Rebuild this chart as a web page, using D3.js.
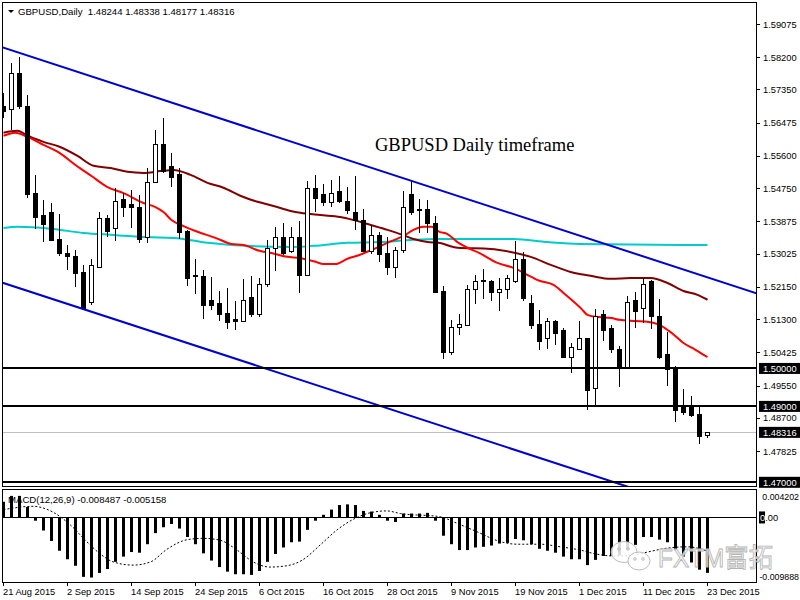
<!DOCTYPE html>
<html>
<head>
<meta charset="utf-8">
<script src="https://cdnjs.cloudflare.com/ajax/libs/d3/7.8.5/d3.min.js"></script>
<style>
body { margin: 0; background: #fff; }
svg { display: block; }
</style>
</head>
<body>
<div class="grafico"></div>
<script>
// GBPUSD diario, 21 Aug - 23 Dec 2015 (una vela por dia habil)
var openP = [1.5689,1.5681,1.5778,1.5689,1.5460,1.5404,1.5412,1.5341,1.5302,1.5296,
  1.5254,1.5175,1.5267,1.5394,1.5370,1.5446,1.5431,1.5425,1.5344,1.5491,
  1.5591,1.5531,1.5510,1.5362,1.5244,1.5241,1.5178,1.5172,1.5146,1.5128,
  1.5125,1.5188,1.5143,1.5222,1.5315,1.5344,1.5309,1.5344,1.5244,1.5475,
  1.5457,1.5438,1.5465,1.5441,1.5412,1.5391,1.5307,1.5349,1.5302,1.5267,
  1.5312,1.5457,1.5415,1.5420,1.5383,1.5204,1.5043,1.5109,1.5114,1.5209,
  1.5228,1.5230,1.5199,1.5207,1.5230,1.5288,1.5172,1.5117,1.5078,1.5125,
  1.5099,1.5030,1.5051,1.5078,1.4946,1.5141,1.5104,1.5051,1.5001,1.5178,
  1.5159,1.5228,1.5138,1.5036,1.4998,1.4898,1.4898,1.4878,1.48244];
var highP = [1.5726,1.5805,1.5821,1.5720,1.5510,1.5444,1.5436,1.5407,1.5325,1.5312,
  1.5273,1.5288,1.5412,1.5404,1.5475,1.5462,1.5470,1.5457,1.5528,1.5628,
  1.5660,1.5568,1.5528,1.5365,1.5288,1.5259,1.5241,1.5204,1.5212,1.5178,
  1.5236,1.5244,1.5238,1.5338,1.5373,1.5383,1.5373,1.5389,1.5494,1.5510,
  1.5486,1.5496,1.5507,1.5478,1.5507,1.5420,1.5378,1.5359,1.5346,1.5320,
  1.5468,1.5494,1.5446,1.5444,1.5402,1.5217,1.5128,1.5143,1.5220,1.5246,
  1.5262,1.5233,1.5238,1.5246,1.5336,1.5307,1.5194,1.5154,1.5133,1.5128,
  1.5107,1.5067,1.5125,1.5080,1.5157,1.5154,1.5114,1.5059,1.5191,1.5201,
  1.5238,1.5233,1.5183,1.5096,1.5006,1.4946,1.4928,1.4901,1.48338];
var lowP = [1.5660,1.5628,1.5684,1.5449,1.5367,1.5333,1.5336,1.5296,1.5259,1.5215,
  1.5157,1.5167,1.5266,1.5346,1.5336,1.5399,1.5370,1.5331,1.5331,1.5489,
  1.5515,1.5478,1.5341,1.5217,1.5196,1.5130,1.5154,1.5125,1.5104,1.5101,
  1.5122,1.5135,1.5135,1.5215,1.5257,1.5299,1.5304,1.5199,1.5243,1.5412,
  1.5428,1.5425,1.5436,1.5407,1.5365,1.5306,1.5302,1.5280,1.5246,1.5238,
  1.5304,1.5404,1.5357,1.5357,1.5200,1.5025,1.5036,1.5088,1.5112,1.5170,
  1.5183,1.5178,1.5151,1.5183,1.5225,1.5178,1.5104,1.5049,1.5051,1.5062,
  1.5027,1.4988,1.5049,1.4891,1.4898,1.5072,1.5041,1.4951,1.4999,1.5107,
  1.5120,1.5104,1.5025,1.4954,1.4859,1.4878,1.4872,1.4801,1.48177];
var closeP = [1.5676,1.5778,1.5689,1.5457,1.5399,1.5378,1.5338,1.5302,1.5294,1.5251,
  1.5159,1.5270,1.5394,1.5362,1.5441,1.5423,1.5423,1.5341,1.5489,1.5591,
  1.5518,1.5504,1.5359,1.5238,1.5241,1.5167,1.5167,1.5143,1.5122,1.5125,
  1.5180,1.5141,1.5222,1.5317,1.5344,1.5304,1.5344,1.5244,1.5475,1.5449,
  1.5436,1.5462,1.5441,1.5415,1.5389,1.5307,1.5349,1.5299,1.5267,1.5312,
  1.5425,1.5412,1.5420,1.5383,1.5201,1.5041,1.5109,1.5117,1.5209,1.5228,
  1.5233,1.5199,1.5209,1.5236,1.5288,1.5183,1.5112,1.5072,1.5125,1.5093,
  1.5028,1.5054,1.5078,1.4941,1.5136,1.5101,1.5049,1.5001,1.5175,1.5151,
  1.5222,1.5136,1.5028,1.4996,1.4888,1.4885,1.4875,1.4820,1.48316];

// medias moviles: [vela, precio]
var maRed = [[0,1.5613],[1.5,1.5621],[3,1.5610],[5,1.5589],[7,1.5568],[9,1.5536],
  [11,1.5507],[13,1.5478],[15,1.5462],[17.5,1.5436],[19,1.5425],[20,1.5412],
  [21,1.5391],[22.5,1.5375],[24,1.5362],[26.5,1.5344],[28.5,1.5328],[30,1.5325],
  [32,1.5310],[33.5,1.5304],[35.5,1.5294],[37,1.5291],[39,1.5281],[40,1.5275],
  [41.5,1.5275],[43,1.5289],[44.5,1.5299],[46,1.5312],[48,1.5331],[50,1.5349],
  [51.25,1.5365],[52.5,1.5373],[53.5,1.5373],[54.5,1.5360],[55.5,1.5354],[56.75,1.5333],
  [58,1.5318],[59.5,1.5304],[61.75,1.5278],[63.75,1.5265],[66,1.5241],[67,1.5231],
  [68.75,1.5220],[70,1.5199],[71,1.5181],[72.25,1.5157],[73,1.5141],[74,1.5136],
  [76,1.5133],[77,1.5128],[79,1.5125],[80.5,1.5123],[82,1.5115],[83.5,1.5094],
  [85,1.5067],[86.5,1.5049],[88,1.5030]];
var maMaroon = [[0,1.5621],[1.75,1.5626],[3,1.5613],[5,1.5597],[7,1.5584],[9.25,1.5560],
  [11.25,1.5534],[13.4,1.5528],[15.5,1.5518],[17.5,1.5515],[19.6,1.5520],[21.25,1.5523],
  [23.4,1.5510],[25.5,1.5489],[27.5,1.5476],[29.6,1.5455],[31.75,1.5439],[33.75,1.5428],
  [35.9,1.5415],[37.1,1.5410],[39.6,1.5404],[42.1,1.5399],[43.75,1.5391],[45.9,1.5378],
  [48,1.5365],[49.6,1.5354],[51.25,1.5341],[53,1.5333],[54.4,1.5331],[56.75,1.5318],
  [60.9,1.5315],[63.4,1.5307],[65.9,1.5294],[68.4,1.5273],[70.9,1.5254],[73.4,1.5244],
  [75.9,1.5236],[78.4,1.5238],[80.9,1.5238],[83,1.5225],[85,1.5204],[86.75,1.5194],
  [88,1.5181]];
var maCyan = [[0,1.5370],[1.75,1.5373],[5.9,1.5368],[10,1.5357],[13.4,1.5352],[18,1.5346],
  [21.25,1.5344],[25.5,1.5331],[30.5,1.5323],[35.9,1.5320],[38.75,1.5323],[43,1.5331],
  [47.1,1.5333],[51.25,1.5339],[54.25,1.5341],[63.75,1.5341],[68,1.5333],[72,1.5328],
  [88,1.5325]];

// canal bajista: dos puntos por linea
var channelUp = [[0,1.5845],[88,1.5240]];
var channelDown = [[0,1.5225],[88,1.4620]];

var priceTicks = [1.59075,1.58200,1.57350,1.56475,1.55600,1.54750,1.53875,
  1.53025,1.52150,1.51300,1.50425,1.49550,1.48700,1.47825];
var levels = [1.50000,1.49000,1.47000];
var bidPrice = 1.48316;

// MACD(12,26,9)
var macdHist = [0.0024,0.0033,0.0033,0.0016,-0.0005,-0.0020,-0.0036,-0.0051,-0.0064,-0.0074,
  -0.0091,-0.0092,-0.0085,-0.0079,-0.0068,-0.0060,-0.0053,-0.0054,-0.0041,-0.0024,
  -0.0015,-0.0010,-0.0017,-0.0030,-0.0041,-0.0055,-0.0066,-0.0076,-0.0083,-0.0087,
  -0.0087,-0.0088,-0.0082,-0.0068,-0.0056,-0.0046,-0.0038,-0.0037,-0.0019,-0.0005,
  0.0004,0.0012,0.0019,0.0020,0.0019,0.0010,0.0009,0.0004,-0.0005,-0.0007,
  0.0006,0.0006,0.0006,0.0007,-0.0005,-0.0028,-0.0041,-0.0050,-0.0050,-0.0046,
  -0.0045,-0.0043,-0.0040,-0.0039,-0.0033,-0.0035,-0.0041,-0.0048,-0.0051,-0.0054,
  -0.0060,-0.0064,-0.0064,-0.0073,-0.0065,-0.0059,-0.0059,-0.0058,-0.0049,-0.0042,
  -0.0030,-0.0030,-0.0034,-0.0038,-0.0050,-0.0060,-0.0069,-0.0080,-0.008487];
var macdSignal = [[0,0.0012],[3.7,0.0017],[6.2,0.0008],[8.4,-0.0012],[10.4,-0.0037],
  [12.1,-0.0056],[13.7,-0.0068],[16.2,-0.0073],[18.4,-0.0068],[20.4,-0.0049],
  [23,-0.0034],[25,-0.0032],[27.1,-0.0035],[29.2,-0.0050],[31.2,-0.0068],
  [33.3,-0.0076],[35.4,-0.0074],[37.4,-0.0065],[39.6,-0.0042],[41.7,-0.0019],
  [43.7,-0.0003],[45.8,0.0007],[47.9,0.0010],[49.6,0.0006],[54.6,0.0001],
  [56.7,-0.0009],[59.2,-0.0022],[62.1,-0.0037],[64.2,-0.0041],[67.1,-0.0041],
  [69.6,-0.0045],[72.1,-0.0050],[73.7,-0.0055],[76.2,-0.0059],[78.7,-0.0058],
  [80.5,-0.0053],[83,-0.0047],[85.5,-0.0045],[88,-0.005158]];
var macdTicks = [0.004202,-0.009888];

var dateLabels = ["21 Aug 2015","2 Sep 2015","14 Sep 2015","24 Sep 2015","6 Oct 2015",
  "16 Oct 2015","28 Oct 2015","9 Nov 2015","19 Nov 2015","1 Dec 2015","11 Dec 2015","23 Dec 2015"];
var dateBars = [0,8,16,24,32,40,48,56,64,72,80,88];

var w = 800;
var h = 600;
var fontUI = "Liberation Sans, Arial, sans-serif";

var svg = d3.select(".grafico")
  .append("svg")
  .attr("width", w)
  .attr("height", h)
  .style("background", "#ffffff");

var x = d3.scaleLinear().domain([0, 88]).range([3.5, 707.5]);
var y = d3.scaleLinear().domain([1.47825, 1.59075]).range([451, 24]);
var ym = d3.scaleLinear().domain([-0.009888, 0.004202]).range([582, 490]);

var defs = svg.append("defs");
defs.append("clipPath").attr("id", "clipMain")
  .append("rect").attr("x", 3).attr("y", 3).attr("width", 754).attr("height", 484);
defs.append("clipPath").attr("id", "clipMacd")
  .append("rect").attr("x", 3).attr("y", 490).attr("width", 754).attr("height", 92);

var main = svg.append("g").attr("clip-path", "url(#clipMain)");

// linea bid
main.append("line")
  .attr("x1", 3).attr("x2", 757)
  .attr("y1", Math.round(y(bidPrice)) + 0.5).attr("y2", Math.round(y(bidPrice)) + 0.5)
  .attr("stroke", "#c0c0c0").attr("stroke-width", 1);

// medias moviles (detras de las velas)
var maLine = d3.line()
  .x(function(d) { return x(d[0]); })
  .y(function(d) { return y(d[1]); })
  .curve(d3.curveMonotoneX);

main.append("path").datum(maCyan).attr("d", maLine)
  .attr("fill", "none").attr("stroke", "#00cccc").attr("stroke-width", 2);
main.append("path").datum(maMaroon).attr("d", maLine)
  .attr("fill", "none").attr("stroke", "#800000").attr("stroke-width", 2);
main.append("path").datum(maRed).attr("d", maLine)
  .attr("fill", "none").attr("stroke", "#ff0000").attr("stroke-width", 2);

// velas
var idx = d3.range(openP.length);
var velas = main.append("g").attr("shape-rendering", "crispEdges");

velas.selectAll("line.mecha")
  .data(idx)
  .enter().append("line")
  .attr("class", "mecha")
  .attr("x1", function(i) { return x(i); })
  .attr("x2", function(i) { return x(i); })
  .attr("y1", function(i) { return y(highP[i]); })
  .attr("y2", function(i) { return y(lowP[i]); })
  .attr("stroke", "#000").attr("stroke-width", 1);

velas.selectAll("rect.cuerpo")
  .data(idx)
  .enter().append("rect")
  .attr("class", "cuerpo")
  .attr("x", function(i) { return x(i) - 2; })
  .attr("y", function(i) { return Math.min(y(openP[i]), y(closeP[i])); })
  .attr("width", 4)
  .attr("height", function(i) { return Math.max(1, Math.abs(y(openP[i]) - y(closeP[i]))); })
  .attr("fill", function(i) { return closeP[i] < openP[i] ? "#000" : "#fff"; })
  .attr("stroke", "#000").attr("stroke-width", 1);

// canal
function extender(p, i0, i1) {
  var s = (p[1][1] - p[0][1]) / (p[1][0] - p[0][0]);
  return [[i0, p[0][1] + s * (i0 - p[0][0])], [i1, p[0][1] + s * (i1 - p[0][0])]];
}
var rectLine = d3.line()
  .x(function(d) { return x(d[0]); })
  .y(function(d) { return y(d[1]); });

[channelUp, channelDown].forEach(function(c) {
  main.append("path").datum(extender(c, -1, 96)).attr("d", rectLine)
    .attr("fill", "none").attr("stroke", "#0000cd").attr("stroke-width", 2);
});

// niveles horizontales
main.selectAll("line.nivel")
  .data(levels)
  .enter().append("line")
  .attr("class", "nivel")
  .attr("x1", 3).attr("x2", 757)
  .attr("y1", function(d) { return Math.round(y(d)); })
  .attr("y2", function(d) { return Math.round(y(d)); })
  .attr("stroke", "#000").attr("stroke-width", 2);

// titulo
svg.append("text")
  .attr("x", 375).attr("y", 151)
  .attr("font-family", "Liberation Serif, Times New Roman, serif")
  .attr("font-size", "18.5px")
  .attr("fill", "#000")
  .text("GBPUSD Daily timeframe");

// cabecera
svg.append("path")
  .attr("d", "M8,10 L14,10 L11,13 Z")
  .attr("fill", "#000");
svg.append("text")
  .attr("x", 18).attr("y", 15)
  .attr("font-family", fontUI).attr("font-size", "9.6px").attr("fill", "#000")
  .attr("xml:space", "preserve")
  .text("GBPUSD,Daily  " + openP[88].toFixed(5) + " " + highP[88].toFixed(5) + " " +
    lowP[88].toFixed(5) + " " + closeP[88].toFixed(5));

// marcos
svg.append("rect").attr("x", 2.5).attr("y", 2.5).attr("width", 754).attr("height", 484)
  .attr("fill", "none").attr("stroke", "#000").attr("stroke-width", 1);
svg.append("rect").attr("x", 2.5).attr("y", 489.5).attr("width", 754).attr("height", 93)
  .attr("fill", "none").attr("stroke", "#000").attr("stroke-width", 1);

// eje de precios
var eje = svg.append("g").attr("font-family", fontUI).attr("font-size", "9.3px");
eje.selectAll("line.tick")
  .data(priceTicks)
  .enter().append("line")
  .attr("x1", 757).attr("x2", 760)
  .attr("y1", function(d) { return Math.round(y(d)) + 0.5; })
  .attr("y2", function(d) { return Math.round(y(d)) + 0.5; })
  .attr("stroke", "#000");
eje.selectAll("text.tick")
  .data(priceTicks)
  .enter().append("text")
  .attr("x", 763)
  .attr("y", function(d) { return y(d) + 3.5; })
  .attr("fill", "#000")
  .text(function(d) { return d.toFixed(5); });

// etiquetas resaltadas
levels.concat([bidPrice]).forEach(function(v) {
  eje.append("rect")
    .attr("x", 759).attr("y", y(v) - 5.5).attr("width", 41).attr("height", 11)
    .attr("fill", "#000");
  eje.append("text")
    .attr("x", 763).attr("y", y(v) + 3.5)
    .attr("fill", "#fff")
    .text(v.toFixed(5));
});

// ventana MACD
var macd = svg.append("g");
macd.append("text")
  .attr("x", 8).attr("y", 503)
  .attr("font-family", fontUI).attr("font-size", "9.6px").attr("fill", "#000")
  .text("MACD(12,26,9) " + macdHist[88].toFixed(6) + " " + macdSignal[macdSignal.length - 1][1].toFixed(6));

var macdG = macd.append("g").attr("clip-path", "url(#clipMacd)");
macdG.append("line")
  .attr("x1", 3).attr("x2", 757)
  .attr("y1", Math.round(ym(0)) + 0.5).attr("y2", Math.round(ym(0)) + 0.5)
  .attr("stroke", "#000");

macdG.selectAll("rect.hist")
  .data(macdHist)
  .enter().append("rect")
  .attr("class", "hist")
  .attr("x", function(d, i) { return x(i) - 1.5; })
  .attr("y", function(d) { return Math.min(ym(0), ym(d)); })
  .attr("width", 3)
  .attr("height", function(d) { return Math.abs(ym(d) - ym(0)); })
  .attr("fill", "#000");

macdG.append("path").datum(macdSignal)
  .attr("d", d3.line()
    .x(function(d) { return x(d[0]); })
    .y(function(d) { return ym(d[1]); })
    .curve(d3.curveMonotoneX))
  .attr("fill", "none").attr("stroke", "#000").attr("stroke-width", 1)
  .attr("stroke-dasharray", "2,2");

var ejeM = svg.append("g").attr("font-family", fontUI).attr("font-size", "8.8px");
ejeM.append("text").attr("x", 799).attr("y", 499.5).attr("text-anchor", "end")
  .attr("fill", "#000").text(macdTicks[0].toFixed(6));
ejeM.append("text").attr("x", 799).attr("y", 579.5).attr("text-anchor", "end")
  .attr("fill", "#000").text(macdTicks[1].toFixed(6));
ejeM.append("rect").attr("x", 759).attr("y", ym(0) - 6).attr("width", 6).attr("height", 12).attr("fill", "#000");
var cero = ejeM.append("text").attr("x", 760).attr("y", ym(0) + 3.5).attr("font-size", "9.3px");
cero.append("tspan").attr("fill", "#fff").text("0");
cero.append("tspan").attr("fill", "#000").text(".00");

// fechas
var fechas = svg.append("g").attr("font-family", fontUI).attr("font-size", "9.3px");
fechas.selectAll("line")
  .data(dateBars)
  .enter().append("line")
  .attr("x1", function(d) { return x(d); }).attr("x2", function(d) { return x(d); })
  .attr("y1", 582).attr("y2", 586)
  .attr("stroke", "#000");
fechas.selectAll("text")
  .data(dateBars)
  .enter().append("text")
  .attr("x", function(d) { return x(d) - 0.5; })
  .attr("y", 595)
  .attr("fill", "#000")
  .text(function(d, i) { return dateLabels[i]; });

// marca de agua
var agua = svg.append("g").attr("stroke", "#b4b4b4").attr("stroke-width", 0.9);
agua.append("ellipse").attr("cx", 624).attr("cy", 552).attr("rx", 13).attr("ry", 10.5)
  .attr("fill", "#fff").attr("fill-opacity", 0.85);
agua.append("ellipse").attr("cx", 639).attr("cy", 561).attr("rx", 11).attr("ry", 9)
  .attr("fill", "#fff").attr("fill-opacity", 0.9);
[[619, 549], [628, 549], [635, 559], [643, 559]].forEach(function(p) {
  agua.append("circle").attr("cx", p[0]).attr("cy", p[1]).attr("r", 1.3).attr("fill", "none");
});
agua.append("text")
  .attr("x", 658).attr("y", 567)
  .attr("font-family", "Liberation Sans, Noto Sans CJK SC, sans-serif")
  .attr("font-size", "26px")
  .attr("textLength", 115).attr("lengthAdjust", "spacingAndGlyphs")
  .attr("fill", "#fff").attr("fill-opacity", 0.8)
  .text("FXTM富拓");
</script>
</body>
</html>
